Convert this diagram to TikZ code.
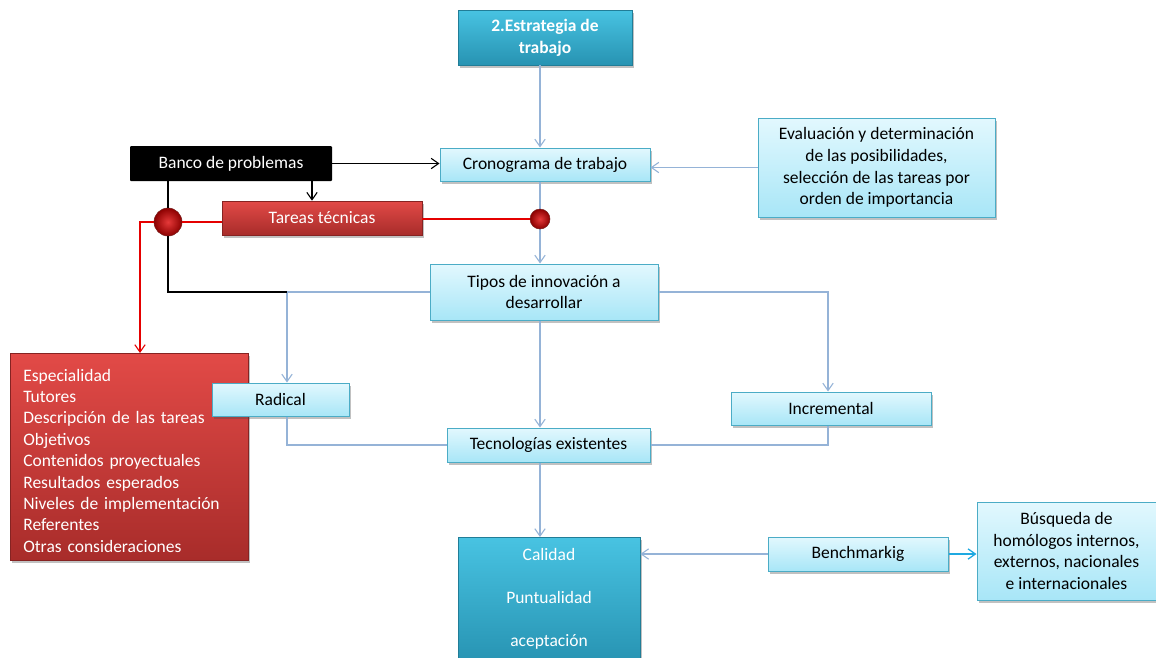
\documentclass[tikz,border=0pt]{standalone}
\usepackage{fontspec}
\setmainfont{Carlito}
\usetikzlibrary{arrows.meta,shadows,calc}
\definecolor{flowblue}{HTML}{95B3D7}
\definecolor{brightblue}{HTML}{1FA9E1}
\definecolor{cyanedge}{HTML}{4BACC6}
\definecolor{cyantop}{HTML}{E2F8FE}
\definecolor{cyanbot}{HTML}{A8E6F7}
\definecolor{tealtop}{HTML}{48C3E2}
\definecolor{tealbot}{HTML}{2793B2}
\definecolor{redtop}{HTML}{E24A47}
\definecolor{redbot}{HTML}{A82C2A}
\tikzset{
  x=1pt, y=-1pt,
  every node/.style={font=\fontsize{17.5}{21.7}\selectfont, align=center, inner sep=2pt},
  boxshadow/.style={drop shadow={shadow xshift=2pt, shadow yshift=-2.5pt, opacity=0.35, fill=black!70}},
  lightbox/.style={boxshadow, draw=cyanedge, line width=1pt, top color=cyantop, bottom color=cyanbot, text=black},
  tealbox/.style={boxshadow, draw=tealbot!85!black, line width=0.6pt, top color=tealtop, bottom color=tealbot, text=white},
  redbox/.style={boxshadow, draw=redbot!80!black, line width=0.6pt, top color=redtop, bottom color=redbot, text=white},
  blackbox/.style={fill=black, text=white, rounded corners=1pt},
  flow/.style={draw=flowblue, line width=1.1pt, -{Straight Barb[angle=70:9pt, line width=1.1pt]}},
  flowline/.style={draw=flowblue, line width=1.1pt},
  brightflow/.style={draw=brightblue, line width=1.3pt, -{Straight Barb[angle=70:9pt, line width=1.3pt]}},
  blkflow/.style={draw=black, line width=1.1pt, -{Straight Barb[angle=70:9pt, line width=1.1pt]}},
  blkline/.style={draw=black, line width=1.1pt},
  redflow/.style={draw=red!90!black, line width=1.1pt, -{Straight Barb[angle=70:9pt, line width=1.1pt]}},
  redline/.style={draw=red!90!black, line width=1.1pt},
  dot/.style={circle, inner sep=0pt, draw=redbot!70!black, line width=0.5pt, inner color=red!75!white!90!black, outer color=red!55!black}
}
\begin{document}
\begin{tikzpicture}
\useasboundingbox (0,0) rectangle (1156,657);

% guide coordinates for the vertical runs
\coordinate (trunk) at (540,0);
\coordinate (bl) at (287,292);
\coordinate (br) at (828,292);
\coordinate (redx) at (140,0);
\coordinate (bdown) at (312,0);

% task description list (drawn first so the Radical box sits on top)
\node[redbox, minimum width=238pt, minimum height=207pt, align=left, text width=212pt, anchor=north west, inner xsep=13pt, inner ysep=0pt, font=\fontsize{17.5}{21.4}\selectfont\raggedright] (lista) at (10,353) {%
\rule{0pt}{20pt}Especialidad\\Tutores\\Descripción de las tareas\\Objetivos\\Contenidos proyectuales\\Resultados esperados\\Niveles de implementación\\Referentes\\Otras consideraciones};

% boxes
\node[tealbox, minimum width=174pt, minimum height=55pt, font=\fontsize{17.5}{21.7}\selectfont\bfseries] (strat) at (545,37.5) {2.Estrategia de\\trabajo};
\node[lightbox, minimum width=210pt, minimum height=33pt] (crono) at (545,164.5) {Cronograma de trabajo};
\node[lightbox, minimum width=237pt, minimum height=99pt] (eval) at (876.5,167.5) {Evaluación y determinación\\de las posibilidades,\\selección de las tareas por\\orden de importancia};
\node[blackbox, minimum width=202pt, minimum height=35pt] (banco) at (231,163.5) {Banco de problemas};
\node[redbox, minimum width=200pt, minimum height=34pt] (tareas) at (322,218) {Tareas técnicas};
\node[lightbox, minimum width=228pt, minimum height=56pt] (tipos) at (544,292) {Tipos de innovación a\\desarrollar};
\node[lightbox, minimum width=137pt, minimum height=33pt] (radical) at (280.5,399.5) {Radical};
\node[lightbox, minimum width=200pt, minimum height=33pt] (incr) at (831,408.5) {Incremental};
\node[lightbox, minimum width=203pt, minimum height=34pt] (tecno) at (548.5,445) {Tecnologías existentes};
\node[tealbox, minimum width=182pt, minimum height=126pt, font=\fontsize{17.5}{43}\selectfont, anchor=north] (calidad) at (549,537) {\rule{0pt}{0pt}\\[-33pt]Calidad\\Puntualidad\\aceptación};
\node[lightbox, minimum width=180pt, minimum height=34pt] (bench) at (858,554) {Benchmarkig};
\node[lightbox, minimum width=179pt, minimum height=98pt] (busq) at (1066.5,551) {Búsqueda de\\homólogos internos,\\externos, nacionales\\e internacionales};

% main vertical flow
\draw[flow] (strat.south -| trunk) -- (crono.north -| trunk);
\draw[flow] (crono.south -| trunk) -- (tipos.north -| trunk);
\draw[flow] (tipos.south -| trunk) -- (tecno.north -| trunk);
\draw[flow] (tecno.south -| trunk) -- (calidad.north -| trunk);

% side inputs
\draw[flow] (eval.west) -- (eval.west -| crono.east);
\draw[blkflow] (banco.east) -- (crono.west |- banco.east);
\draw[blkflow] (banco.south -| bdown) -- (tareas.north -| bdown);

% branches of the innovation types
\draw[flowline] (tipos.west) -- (bl);
\draw[flow] (bl) -- (radical.north -| bl);
\draw[flow] (tipos.east) -| (incr.north -| br);
\draw[flowline] (radical.south -| bl) |- (tecno.west);
\draw[flowline] (incr.south -| br) |- (tecno.east);

% benchmarking
\draw[flow] (bench.west) -- (calidad.east |- bench.west);
\draw[brightflow] (bench.east) -- (busq.west |- bench.east);

% junction dots
\node[dot, minimum size=28pt] (bigdot) at (168,222) {};
\node[dot, minimum size=20pt] (smalldot) at (540,219) {};

% bank of problems to the innovation types
\draw[blkline] (banco.south -| bigdot) -- (bigdot.north);
\draw[blkline] (bigdot.south) |- (bl);

% technical tasks
\draw[redline] (tareas.east |- smalldot) -- (smalldot.west);
\draw[redline] (tareas.west |- bigdot) -- (bigdot.east);
\draw[redflow] (bigdot.west) -| (lista.north -| redx);
\end{tikzpicture}
\end{document}
